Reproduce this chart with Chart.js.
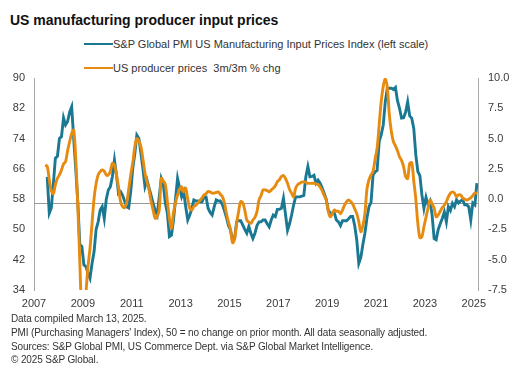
<!DOCTYPE html>
<html>
<head>
<meta charset="utf-8">
<script src="https://cdn.jsdelivr.net/npm/chart.js@4/dist/chart.umd.min.js"></script>
<style>
  html, body { margin:0; padding:0; background:#fff; }
  body { width:528px; height:382px; position:relative; overflow:hidden; font-family:"Liberation Sans", Arial, sans-serif; color:#222; }
  #title { position:absolute; left:10px; top:10px; font-size:14px; font-weight:bold; line-height:20px; color:#111; white-space:nowrap; }
  .leg { position:absolute; left:84px; height:14px; font-size:11px; line-height:14px; color:#333; white-space:nowrap; }
  .leg span.sw { position:absolute; left:0; top:6px; width:29px; height:2px; }
  .leg span.tx { position:absolute; left:29px; top:0; }
  #notes { position:absolute; left:11px; top:312px; font-size:10px; line-height:13.8px; letter-spacing:-0.12px; color:#333; white-space:nowrap; }
  #wrap { position:absolute; left:0; top:70px; width:528px; height:245px; }
</style>
</head>
<body>
<div id="title">US manufacturing producer input prices</div>
<div class="leg" id="leg1" style="top:37px"><span class="sw" id="sw1"></span><span class="tx" id="tx1"></span></div>
<div class="leg" id="leg2" style="top:61px"><span class="sw" id="sw2"></span><span class="tx" id="tx2"></span></div>
<div id="wrap"><canvas id="c"></canvas></div>
<div id="notes"></div>
<script>
// ---- data ----
const seriesNames = [
  "S&P Global PMI US Manufacturing Input Prices Index (left scale)",
  "US producer prices\u00a0 3m/3m % chg"
];
const startYear = 2007, startMonth = 6; // first month in the arrays: June 2007

// S&P Global PMI US Manufacturing Input Prices Index (left scale), monthly
const pmiInputPrices = [
  null, 63.9, 54.3, 55.7, 62.0, 68.8, 69.3,                                   // 2007 Jun-Dec
  74.0, 74.5, 79.5, 77.6, 78.5, 81.0, 82.4, 74.0, 66.0, 57.3, 46.0, 45.5,     // 2008
  40.6, 40.2, 38.5, 37.1, 41.0, 44.1, 50.0, 52.0, 55.1, 56.0, 52.9, 58.0,     // 2009
  60.4, 61.3, 64.0, 68.3, 64.4, 59.5, 60.0, 59.0, 57.5, 56.0, 55.7, 60.0,     // 2010
  66.1, 70.0, 74.9, 74.0, 70.1, 66.0, 61.3, 63.0, 61.0, 59.0, 56.9, 55.0,     // 2011
  53.8, 58.6, 63.5, 62.0, 57.0, 54.3, 48.1, 48.5, 52.5, 58.0, 63.5, 61.0,     // 2012
  58.6, 60.0, 56.0, 52.5, 53.8, 55.5, 57.8, 57.5, 57.5, 57.3, 57.3, 58.6,     // 2013
  58.6, 55.6, 54.5, 53.8, 56.0, 57.8, 57.5, 57.5, 56.6, 55.0, 53.2, 51.0,     // 2014
  49.8, 47.2, 47.5, 52.0, 52.3, 52.3, 51.2, 50.0, 49.0, 50.8, 49.0, 47.6,     // 2015
  49.0, 51.0, 52.0, 52.0, 52.5, 52.5, 51.5, 50.7, 52.5, 53.8, 53.4, 55.3,     // 2016
  55.3, 55.6, 58.2, 54.0, 49.8, 51.5, 53.8, 56.5, 58.6, 58.6, 58.6, 58.8,     // 2017
  59.0, 63.9, 66.6, 63.9, 64.0, 64.3, 62.2, 63.0, 62.2, 61.0, 59.5, 58.0,     // 2018
  55.1, 54.3, 54.3, 54.3, 52.5, 52.0, 51.0, 52.3, 52.3, 52.3, 52.8, 53.4,     // 2019
  53.4, 51.0, 47.2, 41.0, 42.6, 46.0, 49.0, 53.0, 56.0, 57.1, 64.4, 65.2,     // 2020
  65.6, 73.2, 75.0, 77.6, 83.7, 87.3, 87.3, 87.3, 87.0, 87.5, 84.0, 82.0,     // 2021
  79.4, 79.5, 81.0, 83.7, 80.0, 79.4, 76.7, 69.7, 65.3, 64.2, 59.1, 55.6,     // 2022
  58.5, 56.5, 57.5, 53.8, 47.6, 47.3, 50.0, 51.5, 52.9, 54.6, 52.0, 56.0,     // 2023
  55.0, 56.9, 56.0, 57.8, 57.0, 57.5, 57.8, 56.5, 56.5, 56.0, 52.5, 57.0,     // 2024
  56.5, 62.2                                                                  // 2025 Jan-Feb
];

// US producer prices 3m/3m % chg (right scale), monthly
const producerPrices = [
  2.82, 2.7, 1.6, 0.7, 0.45, 1.2, 1.72,                                       // 2007 Jun-Dec
  2.0, 2.41, 2.9, 3.1, 4.0, 4.75, 5.4, 5.7, 3.3, -0.5, -5.2, -9.5,            // 2008
  -10.5, -7.8, -5.6, -4.06, -2.0, 0.07, 1.3, 2.0, 2.27, 2.4, 2.3, 2.0,        // 2009
  2.0, 2.3, 2.96, 2.8, 2.0, 1.0, -0.2, -0.62, -0.7, -0.3, 0.8, 2.0,           // 2010
  3.0, 4.33, 5.0, 4.8, 4.33, 3.3, 2.14, 1.4, 0.76, -0.2, -0.9, -1.58,         // 2011
  -1.4, -0.9, 1.72, 1.5, 1.2, -0.2, -1.58, -2.4, -1.1, -0.3, 0.34, 0.8,       // 2012
  1.03, 0.6, 0.9, 0.0, -0.75, -0.9, -0.6, -0.5, -0.3, -0.1, 0.1, 0.34,        // 2013
  0.45, 0.62, 0.6, 0.5, 0.5, 0.55, 0.6, 0.4, 0.2, -0.3, -1.17, -1.9,          // 2014
  -2.5, -3.6, -3.3, -2.0, -1.0, -0.21, -0.3, -0.9, -1.72, -1.9, -2.0, -1.72,  // 2015
  -1.5, -1.03, -0.07, 0.3, 0.76, 0.76, 0.7, 0.6, 0.75, 0.9, 1.1, 1.44,        // 2016
  1.6, 1.86, 1.95, 1.7, 1.31, 0.8, 0.49, 0.2, 0.9, 1.2, 1.31, 1.4,            // 2017
  1.45, 1.4, 1.31, 1.3, 1.31, 1.31, 1.25, 1.2, 1.0, 0.7, 0.3, -0.07,          // 2018
  -1.0, -1.45, -1.2, -0.9, -1.0, -1.0, -1.2, -0.9, -0.5, -0.2, -0.07, -0.2,   // 2019
  -0.4, -0.8, -1.2, -1.86, -2.68, -2.2, -1.2, 0.8, 1.6, 2.0, 2.3, 3.3,        // 2020
  4.2, 6.12, 8.05, 9.3, 9.92, 9.2, 6.95, 5.57, 4.75, 4.4, 4.0, 3.5,           // 2021
  3.2, 2.68, 1.86, 1.7, 2.96, 3.0, 1.5, 0.0, -2.0, -3.17, -3.1, -2.27,        // 2022
  -1.5, -0.75, -0.07, -0.4, -0.75, -1.45, -1.3, -1.0, -0.7, -0.5, -0.21, 0.2, // 2023
  0.49, 0.6, 0.5, 0.2, 0.35, 0.35, 0.1, 0.0, -0.07, 0.0, 0.1, 0.3,            // 2024
  0.5, 0.5                                                                    // 2025 Jan-Feb
];

const xTickYears = [2007, 2009, 2011, 2013, 2015, 2017, 2019, 2021, 2023, 2025];
const leftTicks = [34, 42, 50, 58, 66, 74, 82, 90];
const rightTicks = [-7.5, -5.0, -2.5, 0.0, 2.5, 5.0, 7.5, 10.0];
const refLineValue = 57; // grey reference line, left scale
const footnotes = [
  "Data compiled March 13, 2025.",
  "PMI (Purchasing Managers' Index), 50 = no change on prior month. All data seasonally adjusted.",
  "Sources: S&P Global PMI, US Commerce Dept. via S&P Global Market Intelligence.",
  "\u00a9 2025 S&P Global."
];

// ---- styles ----
const blue = '#1a7893';
const orange = '#e68b10';
const axisGrey = '#a8a8a8';
const tickColor = '#3a3a3a';
const font = { family: '"Liberation Sans", Arial, sans-serif', size: 11 };

// month positions (decimal years, mid-month)
const monthPos = pmiInputPrices.map((_, i) => {
  const m = startMonth - 1 + i;
  return startYear + Math.floor(m / 12) + ((m % 12) + 0.5) / 12;
});

document.getElementById('sw1').style.background = blue;
document.getElementById('sw2').style.background = orange;
document.getElementById('tx1').textContent = seriesNames[0];
document.getElementById('tx2').textContent = seriesNames[1];
document.getElementById('notes').innerHTML = footnotes.map(s => '<div>' + s.replace(/&/g,'&amp;') + '</div>').join('');

const refLine = {
  id: 'refLine',
  beforeDatasetsDraw(chart) {
    const { ctx, chartArea } = chart;
    const y = Math.round(chart.scales.yL.getPixelForValue(refLineValue)) + 0.5;
    ctx.save();
    ctx.strokeStyle = '#9a9a9a';
    ctx.lineWidth = 1;
    ctx.beginPath();
    ctx.moveTo(chartArea.left, y);
    ctx.lineTo(chartArea.right, y);
    ctx.stroke();
    ctx.restore();
  }
};

function noPad(s) { s.paddingTop = 0; s.paddingBottom = 0; s.paddingLeft = 0; s.paddingRight = 0; }

new Chart(document.getElementById('c'), {
  type: 'line',
  data: {
    datasets: [
      {
        label: seriesNames[0],
        data: pmiInputPrices.map((v, i) => ({ x: monthPos[i], y: v })),
        yAxisID: 'yL',
        borderColor: blue,
        borderWidth: 2.9,
        pointRadius: 0,
        tension: 0,
        order: 2
      },
      {
        label: seriesNames[1],
        data: producerPrices.map((v, i) => ({ x: monthPos[i], y: v })),
        yAxisID: 'yR',
        borderColor: orange,
        borderWidth: 2.9,
        pointRadius: 0,
        tension: 0.35,
        order: 1
      }
    ]
  },
  options: {
    responsive: true,
    maintainAspectRatio: false,
    animation: false,
    devicePixelRatio: 1,
    layout: { padding: { top: 8, left: 0, right: 0, bottom: 0 } },
    plugins: { legend: { display: false }, tooltip: { enabled: false } },
    scales: {
      x: {
        type: 'linear',
        min: 2007,
        max: 2025.17,
        grid: { display: false, drawTicks: false },
        border: { display: false },
        ticks: { font, color: tickColor, padding: 7, maxRotation: 0, autoSkip: false, callback: v => String(v) },
        afterBuildTicks: s => { s.ticks = xTickYears.map(v => ({ value: v })); },
        afterFit: s => { s.height = 25; noPad(s); }
      },
      yL: {
        position: 'left',
        min: leftTicks[0],
        max: leftTicks[leftTicks.length - 1],
        grid: { display: false, drawTicks: false },
        border: { display: true, color: axisGrey, width: 1 },
        ticks: { font, color: tickColor, padding: 9 },
        afterBuildTicks: s => { s.ticks = leftTicks.map(v => ({ value: v })); },
        afterFit: s => { s.width = 34; noPad(s); }
      },
      yR: {
        position: 'right',
        min: rightTicks[0],
        max: rightTicks[rightTicks.length - 1],
        grid: { display: false, drawTicks: false },
        border: { display: true, color: axisGrey, width: 1 },
        ticks: { font, color: tickColor, padding: 10, callback: v => Number(v).toFixed(1) },
        afterBuildTicks: s => { s.ticks = rightTicks.map(v => ({ value: v })); },
        afterFit: s => { s.width = 50; noPad(s); }
      }
    }
  },
  plugins: [refLine]
});
</script>
</body>
</html>
